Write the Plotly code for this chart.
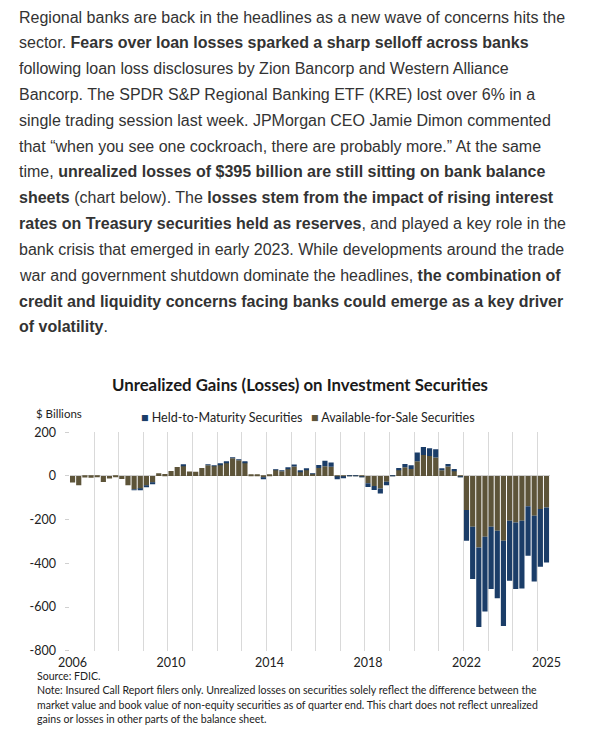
import plotly.graph_objects as go

# ---------------- data ----------------
years = list(range(2006, 2026))
quarter_labels = [f"{y}Q{q}" for y in years for q in range(1, 5)][:78]

htm = [0, 0, 0, 0,
       0, 0, 0, 0,
       0, 0, -2, -4,
       -6, -6, 0, 0,
       0, 0, 3, 0,
       0, 0, 1, 1,
       1, 1, 4, 3,
       2, 0, 0, -8,
       0, 2, 2, 6,
       10, 3, 8, 2,
       14, 25, 20, -9,
       -5, 1, 1, -2,
       -17, -18, -23, -16,
       1, 9, 15, 17,
       40, 37, 35, 37,
       5, 12, 8, -4,
       -141, -240, -364, -343,
       -285, -309, -390, -275,
       -305, -310, -226, -301,
       -265, -252]

afs = [-30, -43, -7, -8,
       -6, -28, -11, -6,
       -14, -42, -61, -59,
       -44, -30, 12, 9,
       23, 41, 47, 20,
       19, 37, 49, 46,
       53, 62, 81, 72,
       62, 7, 6, -7,
       7, 28, 22, 32,
       43, 19, 27, 10,
       36, 45, 42, -6,
       -5, 2, 2, -3,
       -33, -46, -57, -26,
       1, 28, 40, 32,
       67, 96, 92, 85,
       26, 43, 24, -2,
       -156, -232, -327, -278,
       -232, -251, -297, -205,
       -213, -205, -139, -182,
       -151, -144]

series_names = ["Held-to-Maturity Securities", "Available-for-Sale Securities"]
x_tick_labels = ["2006", "2010", "2014", "2018", "2022", "2025"]
x_tick_quarters = ["2006Q1", "2010Q1", "2014Q1", "2018Q1", "2022Q1", "2025Q2"]
y_tick_values = [200, 0, -200, -400, -600, -800]
y_tick_labels = ["200", "0", "-200", "-400", "-600", "-800"]


def qpos(label):
    y, q = label.split("Q")
    return int(y) + (int(q) - 0.5) / 4


xpos = [qpos(l) for l in quarter_labels]

W, H = 600, 731
def px(x):
    return x / W
def py(y):
    return 1 - y / H

NAVY = "#1b3d68"
OLIVE = "#5d5439"
FONT = "Lato"
TXT = "#222222"

fig = go.Figure()
fig.add_trace(go.Bar(x=xpos, y=afs, name=series_names[1],
                     marker=dict(color=OLIVE, line=dict(width=0))))
fig.add_trace(go.Bar(x=xpos, y=htm, name=series_names[0],
                     marker=dict(color=NAVY, line=dict(width=0))))

fig.update_layout(
    width=W, height=H,
    margin=dict(l=0, r=0, t=0, b=0, autoexpand=False),
    paper_bgcolor="white", plot_bgcolor="white",
    barmode="relative", bargap=0.16,
    font=dict(family=FONT, color=TXT),
    showlegend=False,
    xaxis=dict(domain=[px(69.5), px(549.6)], range=[2006, 2025.5], automargin=False,
               tickmode="array", tickvals=[qpos(q) for q in x_tick_quarters], ticktext=x_tick_labels,
               showgrid=False, zeroline=False, showline=False, ticks="",
               ticklabelstandoff=3,
               tickfont=dict(family=FONT, size=12.5, color=TXT),
               minor=dict(tickmode="linear", tick0=2006, dtick=1, showgrid=True,
                          gridcolor="#d9d9d9", gridwidth=1, ticks="")),
    yaxis=dict(domain=[py(650.7), py(432.3)], range=[-800, 200], automargin=False,
               tickmode="array", tickvals=y_tick_values, ticktext=y_tick_labels,
               showgrid=False, zeroline=True, zerolinecolor="#cfcfcf", zerolinewidth=1,
               showline=False, ticks="outside", ticklen=4, tickcolor="#d0d0d0",
               ticklabelstandoff=6,
               tickfont=dict(family=FONT, size=12.5, color=TXT)),
)

# ---------------- legend (as text) ----------------
legend_items = [(series_names[0], NAVY, 139), (series_names[1], OLIVE, 309)]
for name, col, xl in legend_items:
    fig.add_annotation(text=f"<span style='color:{col}'>\u25A0</span> {name}",
                       xref="paper", yref="paper", x=px(xl), y=py(417),
                       xanchor="left", yanchor="middle", showarrow=False,
                       font=dict(family=FONT, size=12.5, color=TXT))

# ---------------- article paragraph ----------------
para = [
    "Regional banks are back in the headlines as a new wave of concerns hits the",
    "sector. <b>Fears over loan losses sparked a sharp selloff across banks</b>",
    "following loan loss disclosures by Zion Bancorp and Western Alliance",
    "Bancorp. The SPDR S&amp;P Regional Banking ETF (KRE) lost over 6% in a",
    "single trading session last week. JPMorgan CEO Jamie Dimon commented",
    "that \u201cwhen you see one cockroach, there are probably more.\u201d At the same",
    "time, <b>unrealized losses of $395 billion are still sitting on bank balance</b>",
    "<b>sheets</b> (chart below). The <b>losses stem from the impact of rising interest</b>",
    "<b>rates on Treasury securities held as reserves</b>, and played a key role in the",
    "bank crisis that emerged in early 2023. While developments around the trade",
    "war and government shutdown dominate the headlines, <b>the combination of</b>",
    "<b>credit and liquidity concerns facing banks could emerge as a key driver</b>",
    "<b>of volatility</b>.",
]
for i, line in enumerate(para):
    fig.add_annotation(text=line, xref="paper", yref="paper", x=px(17), y=py(17 + i * 25.83),
                       xanchor="left", yanchor="middle", showarrow=False,
                       font=dict(family="Liberation Sans", size=16, color="#333333"))

# ---------------- chart texts ----------------
fig.add_annotation(text="<b>Unrealized Gains (Losses) on Investment Securities</b>",
                   xref="paper", yref="paper", x=px(300), y=py(384), xanchor="center", yanchor="middle",
                   showarrow=False, font=dict(family=FONT, size=16.8, color="#1a1a1a"))
fig.add_annotation(text="$ Billions", xref="paper", yref="paper", x=px(34), y=py(413),
                   xanchor="left", yanchor="middle", showarrow=False,
                   font=dict(family=FONT, size=11.5, color=TXT))

notes = [
    "Source: FDIC.",
    "Note: Insured Call Report filers only. Unrealized losses on securities solely reflect the difference between the",
    "market value and book value of non-equity securities as of quarter end. This chart does not reflect unrealized",
    "gains or losses in other parts of the balance sheet.",
]
for i, line in enumerate(notes):
    fig.add_annotation(text=line, xref="paper", yref="paper", x=px(35), y=py(676 + i * 14.3),
                       xanchor="left", yanchor="middle", showarrow=False,
                       font=dict(family=FONT, size=10.55, color=TXT))

fig.write_html("out.html", config={"displayModeBar": False},
               post_script="document.body.style.margin='0';document.body.style.overflow='hidden';")
